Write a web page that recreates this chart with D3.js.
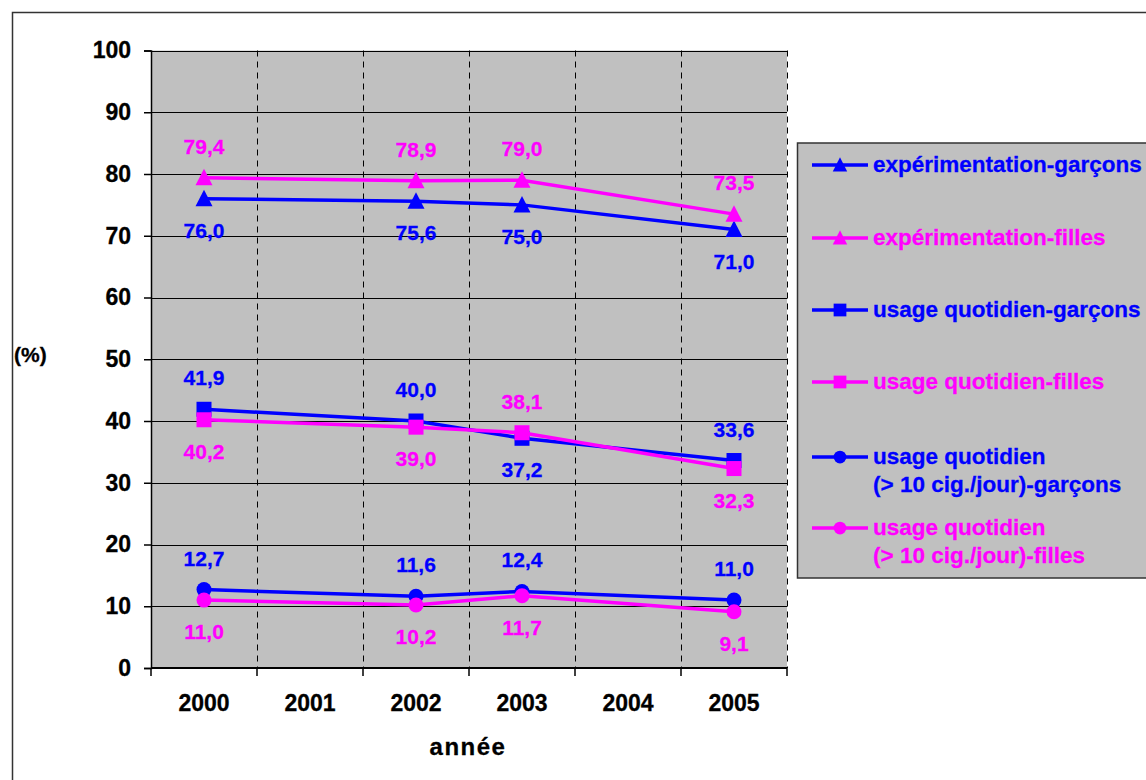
<!DOCTYPE html>
<html><head><meta charset="utf-8">
<script src="https://cdn.jsdelivr.net/npm/d3@7"></script>
<style>body{margin:0;background:#fff}svg{display:block}text{font-family:Arial,"Liberation Sans",sans-serif;font-weight:bold}</style>
</head><body><svg id="c" width="1146" height="780"></svg>
<script>
const years = ['2000','2001','2002','2003','2004','2005'];
const yTicks = [0,10,20,30,40,50,60,70,80,90,100];
const expGarcons = [76.0, null, 75.6, 75.0, null, 71.0];
const expFilles  = [79.4, null, 78.9, 79.0, null, 73.5];
const uqGarcons  = [41.9, null, 40.0, 37.2, null, 33.6];
const uqFilles   = [40.2, null, 39.0, 38.1, null, 32.3];
const uq10Garcons = [12.7, null, 11.6, 12.4, null, 11.0];
const uq10Filles  = [11.0, null, 10.2, 11.7, null, 9.1];
const seriesNames = [
  ['expérimentation-garçons'],
  ['expérimentation-filles'],
  ['usage quotidien-garçons'],
  ['usage quotidien-filles'],
  ['usage quotidien','(> 10 cig./jour)-garçons'],
  ['usage quotidien','(> 10 cig./jour)-filles']
];
const BLUE = '#0000ff', MAG = '#ff00ff';
const series = [
  {vals: expGarcons, partner: expFilles, color: BLUE, shape: 'tri'},
  {vals: expFilles, partner: expGarcons, color: MAG, shape: 'tri'},
  {vals: uqGarcons, partner: uqFilles, color: BLUE, shape: 'sq'},
  {vals: uqFilles, partner: uqGarcons, color: MAG, shape: 'sq'},
  {vals: uq10Garcons, partner: uq10Filles, color: BLUE, shape: 'circ'},
  {vals: uq10Filles, partner: uq10Garcons, color: MAG, shape: 'circ'}
];

const svg = d3.select('#c');
const L = 151, R = 787, T = 50.5, B = 668;
svg.append('rect').attr('x',12.5).attr('y',12.5).attr('width',1200).attr('height',800)
  .attr('fill','#fff').attr('stroke','#333').attr('stroke-width',1.5);

const x = d3.scaleBand().domain(years).range([L,R]).padding(0);
const y = d3.scaleLinear().domain([0,100]).range([B,T]);
const px = v => Math.round(v) + 0.5;

svg.append('rect').attr('x',L).attr('y',T).attr('width',R-L).attr('height',B-T).attr('fill','#c0c0c0');

svg.append('g').selectAll('line').data(yTicks.filter(d=>d>0)).join('line')
  .attr('x1',L).attr('x2',R).attr('y1',d=>px(y(d))).attr('y2',d=>px(y(d)))
  .attr('stroke','#000').attr('stroke-width',1);
const bounds = years.slice(1).map(d=>x(d)).concat([R]);
svg.append('g').selectAll('line').data(bounds).join('line')
  .attr('x1',d=>px(d)).attr('x2',d=>px(d)).attr('y1',T).attr('y2',B)
  .attr('stroke','#000').attr('stroke-width',1).attr('stroke-dasharray','6,5');

const yAxis = d3.axisLeft(y).tickValues(yTicks).tickSize(7).tickPadding(13).tickFormat(d3.format('d'));
const gy = svg.append('g').attr('transform',`translate(${L},0)`).call(yAxis);
gy.select('.domain').attr('stroke','#000').attr('stroke-width',1.5);
gy.selectAll('.tick line').attr('stroke','#000').attr('stroke-width',1.5);
gy.selectAll('.tick text').attr('font-size',23).attr('fill','#000').attr('stroke','#000').attr('stroke-width',0.3)
  .attr('font-family','Arial, "Liberation Sans", sans-serif').attr('font-weight','bold');

const xAxis = d3.axisBottom(x).tickSize(0).tickPadding(27);
const gx = svg.append('g').attr('transform',`translate(0,${B})`).call(xAxis);
gx.select('.domain').remove();
gx.selectAll('.tick text').attr('font-size',23).attr('fill','#000').attr('stroke','#000').attr('stroke-width',0.3)
  .attr('font-family','Arial, "Liberation Sans", sans-serif').attr('font-weight','bold');
svg.append('line').attr('x1',L).attr('x2',R).attr('y1',B).attr('y2',B).attr('stroke','#000').attr('stroke-width',2);
svg.append('g').selectAll('line').data([L].concat(bounds)).join('line')
  .attr('x1',d=>d).attr('x2',d=>d).attr('y1',B).attr('y2',B+8).attr('stroke','#000').attr('stroke-width',1.5);

svg.append('text').attr('x',468).attr('y',755).attr('text-anchor','middle').attr('font-size',24)
  .attr('letter-spacing',1.5).attr('fill','#000').attr('stroke','#000').attr('stroke-width',0.3).text('année');
svg.append('text').attr('x',14).attr('y',362).attr('font-size',21).attr('fill','#000').attr('stroke','#000').attr('stroke-width',0.3).text('(%)');

function marker(g, shape, cx, cy, color, s){
  s = s || 1;
  if(shape==='tri'){
    g.append('path').attr('d',`M${cx},${cy-9*s}L${cx+8.5*s},${cy+7.5*s}L${cx-8.5*s},${cy+7.5*s}Z`).attr('fill',color);
  } else if(shape==='sq'){
    g.append('rect').attr('x',cx-7.5*s).attr('y',cy-7.5*s).attr('width',15*s).attr('height',15*s).attr('fill',color);
  } else {
    g.append('circle').attr('cx',cx).attr('cy',cy).attr('r',7.5*s).attr('fill',color);
  }
}

const cx = d => x(d) + x.bandwidth()/2;
const line = d3.line().x(d=>cx(d.year)).y(d=>y(d.v));
const gs = svg.append('g');
series.forEach(s=>{
  const pts = years.map((yr,i)=>({year:yr, v:s.vals[i], p:s.partner[i]})).filter(d=>d.v!=null);
  const g = gs.append('g');
  g.append('path').datum(pts).attr('d',line).attr('fill','none').attr('stroke',s.color).attr('stroke-width',3.5);
  pts.forEach(d=>marker(g, s.shape, cx(d.year), y(d.v), s.color));
  g.selectAll('text').data(pts).join('text')
    .attr('x',d=>cx(d.year)).attr('y',d=> d.v>d.p ? y(d.v)-24 : y(d.v)+39)
    .attr('text-anchor','middle').attr('font-size',21).attr('fill',s.color).attr('stroke',s.color).attr('stroke-width',0.3)
    .text(d=>d3.format('.1f')(d.v).replace('.',','));
});

const lg = svg.append('g');
lg.append('rect').attr('x',797.5).attr('y',143).attr('width',400).attr('height',435)
  .attr('fill','#c0c0c0').attr('stroke','#333').attr('stroke-width',1.5);
const legY = [165, 238, 310, 382, 457, 528];
series.forEach((s,i)=>{
  const ly = legY[i];
  lg.append('line').attr('x1',812).attr('x2',868).attr('y1',ly).attr('y2',ly).attr('stroke',s.color).attr('stroke-width',3.5);
  marker(lg, s.shape, 840, ly, s.color, 0.85);
  const t = lg.append('text').attr('x',873).attr('y',ly+7).attr('font-size',22.5).attr('fill',s.color).attr('stroke',s.color).attr('stroke-width',0.3);
  seriesNames[i].forEach((ln,j)=>{
    t.append('tspan').attr('x',873).attr('dy', j===0?0:28).text(ln);
  });
});
</script></body></html>
